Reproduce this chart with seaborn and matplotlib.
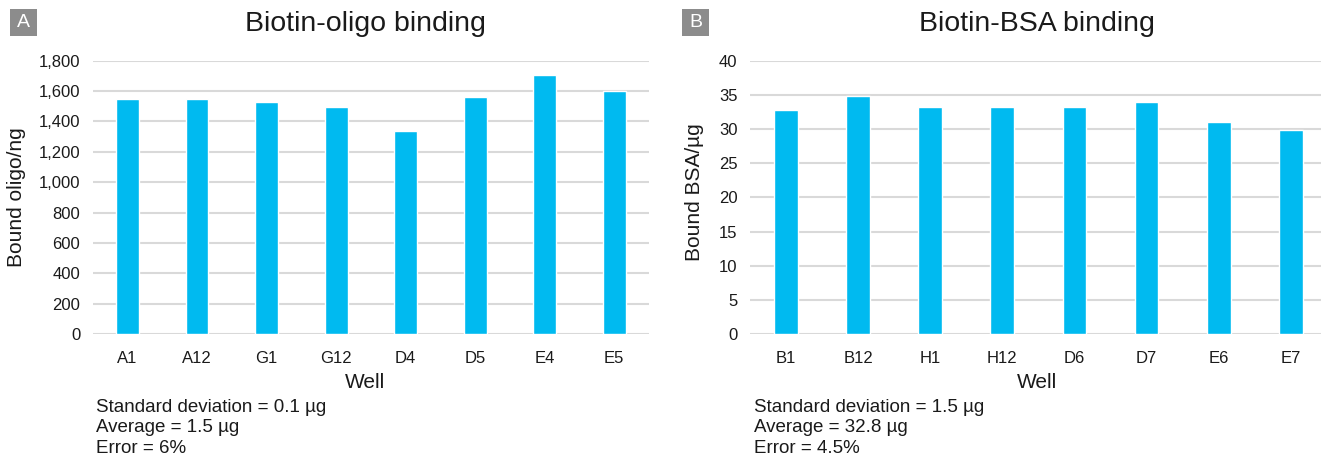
import matplotlib
matplotlib.use("Agg")
import matplotlib.pyplot as plt
from matplotlib.patches import Rectangle
import pandas as pd
import seaborn as sns

# Panel A: biotinylated oligo bound per well (ng)
oligo_wells = ["A1", "A12", "G1", "G12", "D4", "D5", "E4", "E5"]
oligo_bound = [1545, 1545, 1525, 1496, 1336, 1562, 1704, 1600]
oligo_ticks = [0, 200, 400, 600, 800, 1000, 1200, 1400, 1600, 1800]
oligo_stats = ["Standard deviation = 0.1 \u00b5g", "Average = 1.5 \u00b5g", "Error = 6%"]

# Panel B: biotinylated BSA bound per well (ug)
bsa_wells = ["B1", "B12", "H1", "H12", "D6", "D7", "E6", "E7"]
bsa_bound = [32.8, 34.9, 33.2, 33.2, 33.2, 34.0, 31.1, 29.9]
bsa_ticks = [0, 5, 10, 15, 20, 25, 30, 35, 40]
bsa_stats = ["Standard deviation = 1.5 \u00b5g", "Average = 32.8 \u00b5g", "Error = 4.5%"]

BAR = "#00BAF0"
GRID = "#D9D9D9"
INK = "#1a1a1a"
W, H = 1321, 459

sns.set_theme(style="white")
plt.rcParams["font.family"] = ["Liberation Sans", "DejaVu Sans"]

fig = plt.figure(figsize=(W / 100, H / 100), dpi=100)


def px_axes(x0, x1, y_top, y_bot):
    return fig.add_axes([x0 / W, 1 - y_bot / H, (x1 - x0) / W, (y_bot - y_top) / H])


def panel(ax, wells, values, ticks, fmt, ylabel, title, center_x, letter, letter_x,
          stats, stats_x, xmax):
    df = pd.DataFrame({"Well": wells, "Bound": values})
    sns.barplot(data=df, x="Well", y="Bound", color=BAR, width=0.33,
                saturation=1, ax=ax, zorder=3)
    ax.set_xlim(-0.5, xmax)
    ax.set_ylim(ticks[0], ticks[-1])
    ax.set_yticks(ticks)
    ax.set_yticklabels([fmt(t) for t in ticks])
    ax.grid(axis="y", color=GRID, linewidth=1.5, zorder=0)
    ax.set_axisbelow(True)
    for s in ax.spines.values():
        s.set_visible(False)
    ax.tick_params(axis="y", length=0, pad=9, labelsize=12, labelcolor=INK)
    ax.tick_params(axis="x", length=0, pad=12, labelsize=12, labelcolor=INK)
    ax.set_xlabel("Well", fontsize=15, color=INK, labelpad=5)
    ax.xaxis.label.set_x(center_x)
    ax.set_ylabel(ylabel, fontsize=15, color=INK)
    ax.set_title(title, fontsize=20.5, color=INK, x=center_x, pad=21.5)

    # panel letter in a grey square
    fig.patches.append(Rectangle((letter_x / W, 1 - 36 / H), 27 / W, 27 / H,
                                 transform=fig.transFigure, facecolor="#8C8C8C",
                                 edgecolor="none"))
    fig.text((letter_x + 13.5) / W, 1 - 22.5 / H, letter, color="white",
             fontsize=14, ha="center", va="center")

    fig.text(stats_x / W, 1 - 398.5 / H, "\n".join(stats), fontsize=13.5,
             color=INK, ha="left", va="top", linespacing=1.27)


ax_a = px_axes(92.7, 649, 60.7, 334)
panel(ax_a, oligo_wells, oligo_bound, oligo_ticks, lambda t: f"{t:,}",
      "Bound oligo/ng", "Biotin-oligo binding", (365 - 92.7) / 556.3, "A", 10,
      oligo_stats, 96, 7.5)
ax_a.yaxis.set_label_coords(17 / W, 1 - 197 / H, transform=fig.transFigure)
ax_a.yaxis.label.set_va("center")

ax_b = px_axes(750, 1321, 60.7, 334)
panel(ax_b, bsa_wells, bsa_bound, bsa_ticks, lambda t: f"{t}",
      "Bound BSA/\u00b5g", "Biotin-BSA binding", (1037 - 750) / 571, "B", 682,
      bsa_stats, 754, 7.42)
ax_b.yaxis.set_label_coords(695 / W, 1 - 192 / H, transform=fig.transFigure)
ax_b.yaxis.label.set_va("center")

fig.savefig("out.png", dpi=100)
